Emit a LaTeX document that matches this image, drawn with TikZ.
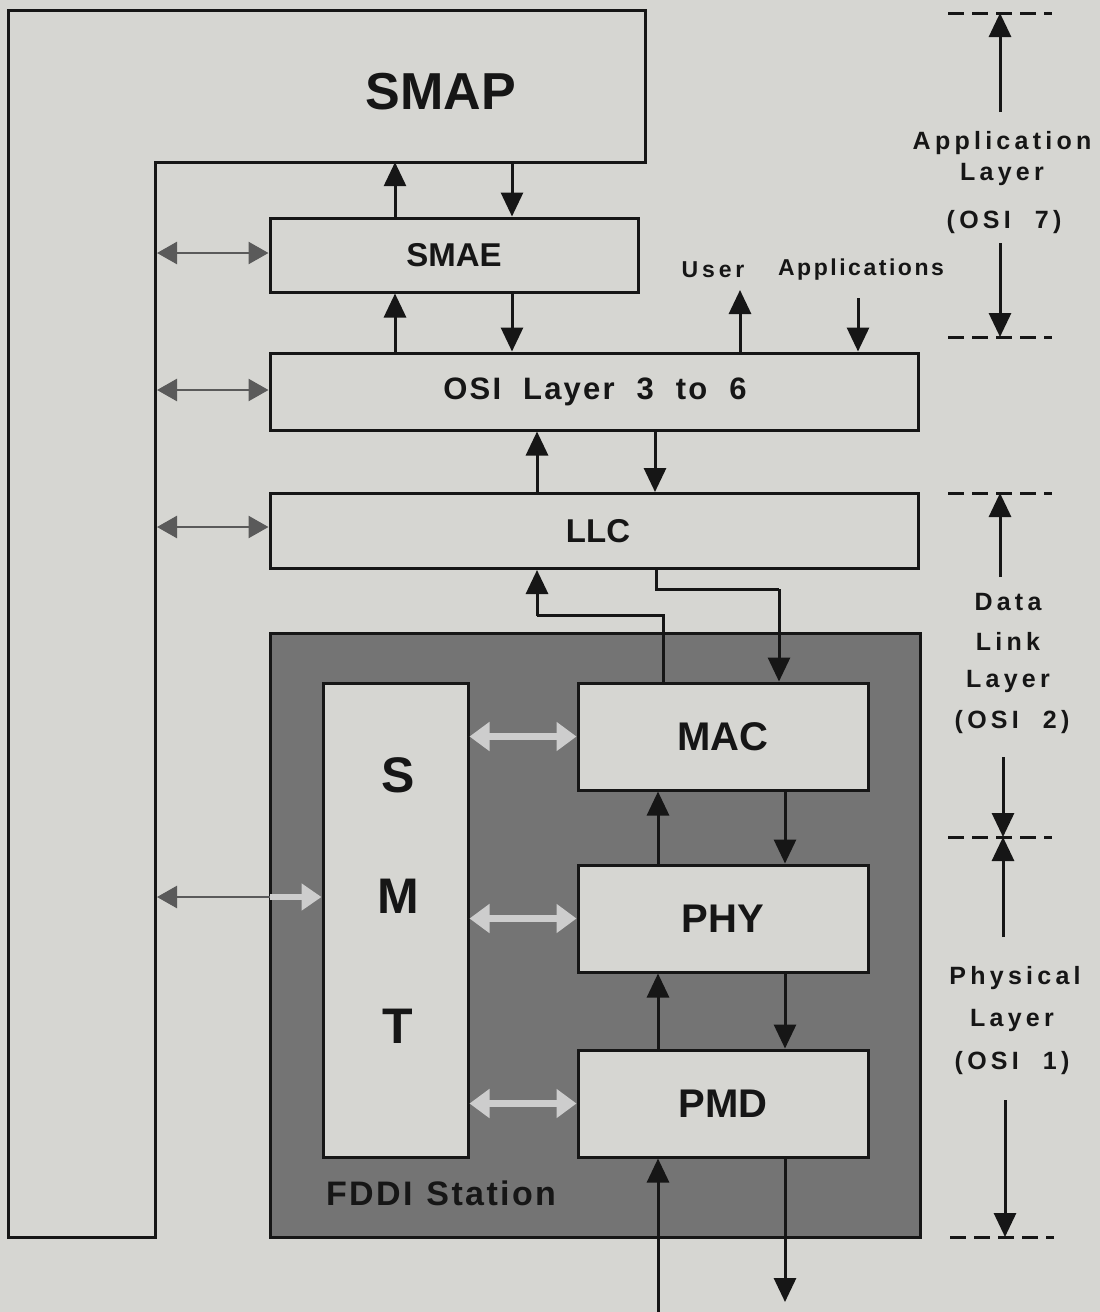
\documentclass[tikz,border=0pt]{standalone}
\usepackage{fontspec}
\setmainfont{Liberation Sans}
\newfontfamily\spc[LetterSpace=17]{Liberation Sans}
\newfontfamily\spm[LetterSpace=11]{Liberation Sans}
\newfontfamily\sps[LetterSpace=7]{Liberation Sans}
\usetikzlibrary{arrows.meta}
\definecolor{bg}{RGB}{214,214,210}
\definecolor{ink}{RGB}{22,22,22}
\definecolor{stn}{RGB}{116,116,116}
\definecolor{darr}{RGB}{90,90,90}
\definecolor{larr}{RGB}{205,205,205}
\begin{document}
\begin{tikzpicture}[x=1pt,y=-1pt,
  box/.style={draw=ink,line width=3pt,fill=bg,inner sep=0pt},
  lbl/.style={font=\bfseries\fontsize{#1}{#1}\selectfont,text=ink},
  side/.style={font=\bfseries\spc\fontsize{25}{25}\selectfont,text=ink,inner sep=0pt},
  arr/.style={draw=ink,line width=3pt,-{Triangle[length=24pt,width=22pt]}},
  darrow/.style={draw=darr,line width=2.5pt,{Triangle[length=20pt,width=22pt]}-{Triangle[length=20pt,width=22pt]}},
  larrow/.style={draw=larr,line width=7pt,{Triangle[length=20pt,width=28pt]}-{Triangle[length=20pt,width=28pt]}},
  dimline/.style={draw=ink,line width=3pt,dash pattern=on 16pt off 8pt}
]
\useasboundingbox (0,0) rectangle (1100,1312);
\fill[bg] (0,0) rectangle (1100,1312);

% SMAP L-shape
\draw[ink,line width=3pt,fill=bg] (8,10) -- (645,10) -- (645,162) -- (155,162) -- (155,1237) -- (8,1237) -- cycle;
\node[inner sep=0pt,minimum width=490pt,minimum height=152pt] (smap) at (400,86) {};
\node[lbl=52] (smapt) at (441,92) {SMAP};

% FDDI station
\node[draw=ink,line width=3pt,fill=stn,minimum width=650pt,minimum height=604pt,inner sep=0pt] (stn) at (595,935) {};
\node[font=\bfseries\sps\fontsize{34}{34}\selectfont,text=ink] (stnt) at (441,1193) {FDDI\hspace{14pt}Station};

% boxes
\node[box,minimum width=368pt,minimum height=74pt] (smae) at (454,255) {};
\node[lbl=33] at (smae) {SMAE};
\node[box,minimum width=648pt,minimum height=77pt] (osi) at (594,391.5) {};
\node[font=\bfseries\sps\fontsize{31}{31}\selectfont,text=ink] at (595,392) {OSI\hspace{22pt}Layer\hspace{22pt}3\hspace{22pt}to\hspace{22pt}6};
\node[box,minimum width=648pt,minimum height=75pt] (llc) at (594,531) {};
\node[lbl=33] at (598,531) {LLC};
\node[box,minimum width=145pt,minimum height=474pt] (smt) at (395.5,920) {};
\node[lbl=50] at (398,775) {S};
\node[lbl=50] at (398,896) {M};
\node[lbl=50] at (398,1026) {T};
\node[box,minimum width=290pt,minimum height=107pt] (mac) at (723,736.5) {};
\node[lbl=40] at (mac) {MAC};
\node[box,minimum width=290pt,minimum height=107pt] (phy) at (723,918.5) {};
\node[lbl=40] at (phy) {PHY};
\node[box,minimum width=290pt,minimum height=107pt] (pmd) at (723,1103.5) {};
\node[lbl=40] at (pmd) {PMD};

% vertical arrows between boxes
\draw[arr] ([xshift=-59pt]smae.north) -- ([xshift=-5pt]smap.south);
\draw[arr] ([xshift=112pt]smap.south) -- ([xshift=58pt]smae.north);
\draw[arr] ([xshift=-199pt]osi.north) -- ([xshift=-59pt]smae.south);
\draw[arr] ([xshift=58pt]smae.south) -- ([xshift=-82pt]osi.north);
\draw[arr] ([xshift=-57pt]llc.north) -- ([xshift=-57pt]osi.south);
\draw[arr] ([xshift=61pt]osi.south) -- ([xshift=61pt]llc.north);

% user applications
\node[font=\bfseries\spc\fontsize{23}{23}\selectfont,text=ink] (user) at (713,270) {User};
\node[font=\bfseries\spm\fontsize{23}{23}\selectfont,text=ink] (apps) at (861,270) {Applications};
\coordinate (usertip) at (740,290);
\coordinate (appstart) at (858,298);
\draw[arr] ([xshift=146pt]osi.north) -- (usertip);
\draw[arr] (appstart) -- ([xshift=264pt]osi.north);

% LLC <-> MAC paths
\draw[arr,-] ([xshift=-60pt]mac.north) |- ++(-126,-66) coordinate (bendA);
\draw[arr] (bendA) -- ([xshift=-57pt]llc.south);
\draw[arr,-] ([xshift=62pt]llc.south) |- ++(123,19) coordinate (bendB);
\draw[arr] (bendB) -- ([xshift=56pt]mac.north);

% MAC/PHY/PMD arrows
\draw[arr] ([xshift=-65pt]phy.north) -- ([xshift=-65pt]mac.south);
\draw[arr] ([xshift=62pt]mac.south) -- ([xshift=62pt]phy.north);
\draw[arr] ([xshift=-65pt]pmd.north) -- ([xshift=-65pt]phy.south);
\draw[arr] ([xshift=62pt]phy.south) -- ([xshift=62pt]pmd.north);
\coordinate (inB) at (658,1312);
\coordinate (outB) at (785,1302);
\draw[arr] (inB) -- ([xshift=-65pt]pmd.south);
\draw[arr] ([xshift=62pt]pmd.south) -- (outB);

% management arrows (outer, dark dithered)
\coordinate (mA) at (157,253);
\coordinate (mB) at (157,390);
\coordinate (mC) at (157,527);
\coordinate (mD) at (157,897);
\coordinate (mDm) at (270,897);
\draw[darrow] (mA) -- (smae.west |- mA);
\draw[darrow] (mB) -- (osi.west |- mB);
\draw[darrow] (mC) -- (llc.west |- mC);
\draw[darr,line width=2.5pt,{Triangle[length=20pt,width=22pt]}-] (mD) -- (mDm);
\draw[larr,line width=6pt,-{Triangle[length=20pt,width=26pt]}] (mDm) -- (smt.west |- mDm);

% SMT <-> MAC/PHY/PMD (light)
\draw[larrow] (smt.east |- mac) -- (mac.west);
\draw[larrow] (smt.east |- phy) -- (phy.west);
\draw[larrow] (smt.east |- pmd) -- (pmd.west);

% right-hand layer dimensions
\coordinate (d0) at (1000,13);
\coordinate (d1) at (1000,337);
\coordinate (d2) at (1000,493);
\coordinate (d3) at (1003,837);
\coordinate (d4) at (1005,1237);
\draw[dimline] (948,13) -- (1052,13);
\draw[dimline] (948,337) -- (1052,337);
\draw[dimline] (948,493) -- (1052,493);
\draw[dimline] (948,837) -- (1052,837);
\draw[dimline] (950,1237) -- (1054,1237);

\node[side] (app1) at (1002,143) {Application};
\node[side] (app2) at (1002,174) {Layer};
\node[side] (app3) at (1004,222) {(OSI\hspace{24pt}7)};
\draw[arr] (1000,112) coordinate (a1s) -- (d0);
\draw[arr] (1000,243) coordinate (a2s) -- (d1);

\node[side] (dl1) at (1008,602) {Data};
\node[side] (dl2) at (1008,641) {Link};
\node[side] (dl3) at (1008,681) {Layer};
\node[side] (dl4) at (1012,722) {(OSI\hspace{24pt}2)};
\draw[arr] (1000,577) coordinate (b1s) -- (d2);
\draw[arr] (1003,757) coordinate (b2s) -- (d3);

\node[side] (ph1) at (1015,978) {Physical};
\node[side] (ph2) at (1012,1020) {Layer};
\node[side] (ph3) at (1012,1063) {(OSI\hspace{24pt}1)};
\draw[arr] (1003,937) coordinate (c1s) -- (d3);
\draw[arr] (1005,1100) coordinate (c2s) -- (d4);
\end{tikzpicture}
\end{document}
